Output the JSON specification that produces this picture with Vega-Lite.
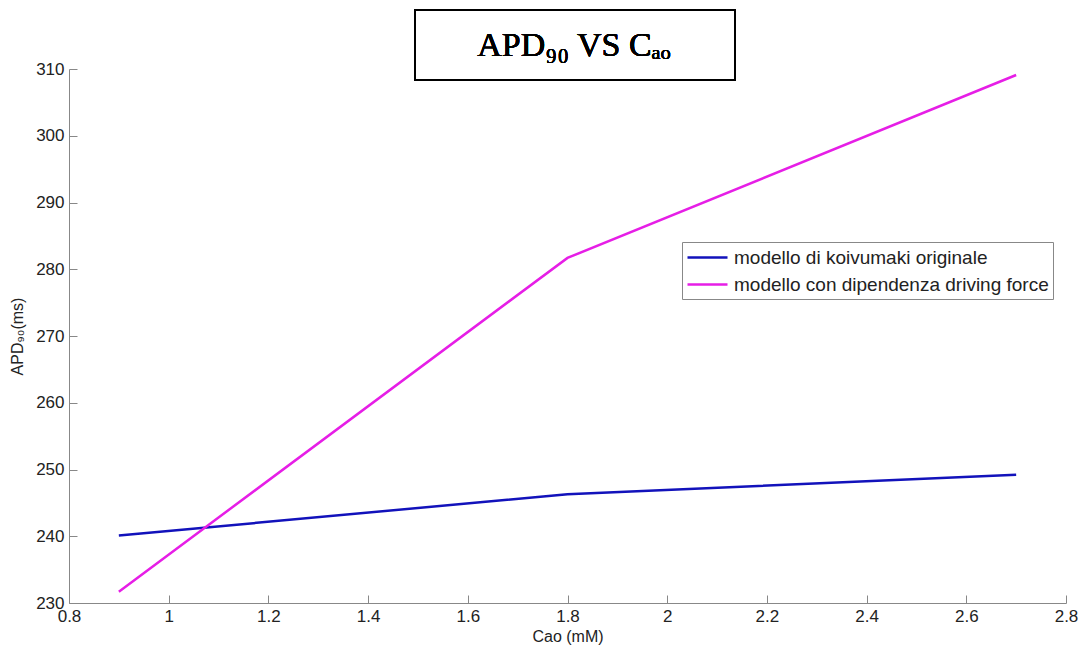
{
  "$schema": "https://vega.github.io/schema/vega-lite/v6.json",
  "autosize": {"type": "none"},
  "width": 997,
  "height": 534,
  "padding": {"left": 69, "top": 69, "right": 18, "bottom": 47},
  "background": "white",
  "config": {"view": {"stroke": null}},
  "data": {
    "values": [
      {"cao": 0.9, "apd": 240.1, "model": "modello di koivumaki originale"},
      {"cao": 1.8, "apd": 246.3, "model": "modello di koivumaki originale"},
      {"cao": 2.7, "apd": 249.2, "model": "modello di koivumaki originale"},
      {"cao": 0.9, "apd": 231.7, "model": "modello con dipendenza driving force"},
      {"cao": 1.8, "apd": 281.7, "model": "modello con dipendenza driving force"},
      {"cao": 2.7, "apd": 309.1, "model": "modello con dipendenza driving force"}
    ]
  },
  "layer": [
    {
      "mark": {"type": "line", "strokeWidth": 2.5, "clip": false},
      "encoding": {
        "x": {
          "field": "cao", "type": "quantitative",
          "scale": {"domain": [0.8, 2.8], "nice": false, "zero": false},
          "axis": {
            "title": "Cao (mM)", "titleFont": "Liberation Sans", "titleFontSize": 16, "titleFontWeight": "normal", "titleColor": "#222", "titlePadding": 4,
            "values": [0.8, 1, 1.2, 1.4, 1.6, 1.8, 2, 2.2, 2.4, 2.6, 2.8],
            "format": "~g",
            "labelFont": "Liberation Sans", "labelFontSize": 17, "labelColor": "#222", "labelPadding": 13,
            "labelFlush": false, "labelOverlap": false,
            "grid": false, "domainColor": "#888", "tickColor": "#888", "tickSize": -8
          }
        },
        "y": {
          "field": "apd", "type": "quantitative",
          "scale": {"domain": [230, 310], "nice": false, "zero": false},
          "axis": {
            "title": "APD₉₀(ms)", "titleFont": "Liberation Sans", "titleFontSize": 16, "titleFontWeight": "normal", "titleColor": "#222", "titlePadding": 10,
            "values": [230, 240, 250, 260, 270, 280, 290, 300, 310],
            "labelFont": "Liberation Sans", "labelFontSize": 17, "labelColor": "#222", "labelPadding": 13,
            "labelFlush": false, "labelOverlap": false,
            "grid": false, "domainColor": "#888", "tickColor": "#888", "tickSize": -8
          }
        },
        "color": {
          "field": "model", "type": "nominal",
          "scale": {
            "domain": ["modello di koivumaki originale", "modello con dipendenza driving force"],
            "range": ["#1212bb", "#e61ee6"]
          },
          "legend": {
            "title": null,
            "orient": "none", "legendX": 613, "legendY": 173,
            "symbolType": "M-2,0L2,0", "symbolSize": 400, "symbolStrokeWidth": 2.5, "symbolFillColor": "transparent", "symbolOffset": 10,
            "labelFont": "Liberation Sans", "labelFontSize": 19, "labelColor": "#222", "labelOffset": 15,
            "strokeColor": "#888", "padding": 4, "rowPadding": 5, "labelLimit": 400,
            "fillColor": "white"
          }
        }
      }
    },
    {
      "mark": {"type": "rect", "fill": null, "stroke": "black", "strokeWidth": 1.5, "clip": false},
      "encoding": {
        "x": {"datum": 1.494, "type": "quantitative"},
        "x2": {"datum": 2.136},
        "y": {"datum": 318.85, "type": "quantitative"},
        "y2": {"datum": 308.35}
      }
    },
    {
      "mark": {"type": "text", "font": "Liberation Serif, DejaVu Serif", "fontSize": 34, "fontWeight": "normal", "fill": "black", "stroke": null, "align": "center", "baseline": "middle", "clip": false},
      "encoding": {
        "x": {"datum": 1.813, "type": "quantitative"},
        "y": {"datum": 313.4, "type": "quantitative"},
        "text": {"value": "APD₉₀ VS Cₐₒ"}
      }
    }
  ]
}
